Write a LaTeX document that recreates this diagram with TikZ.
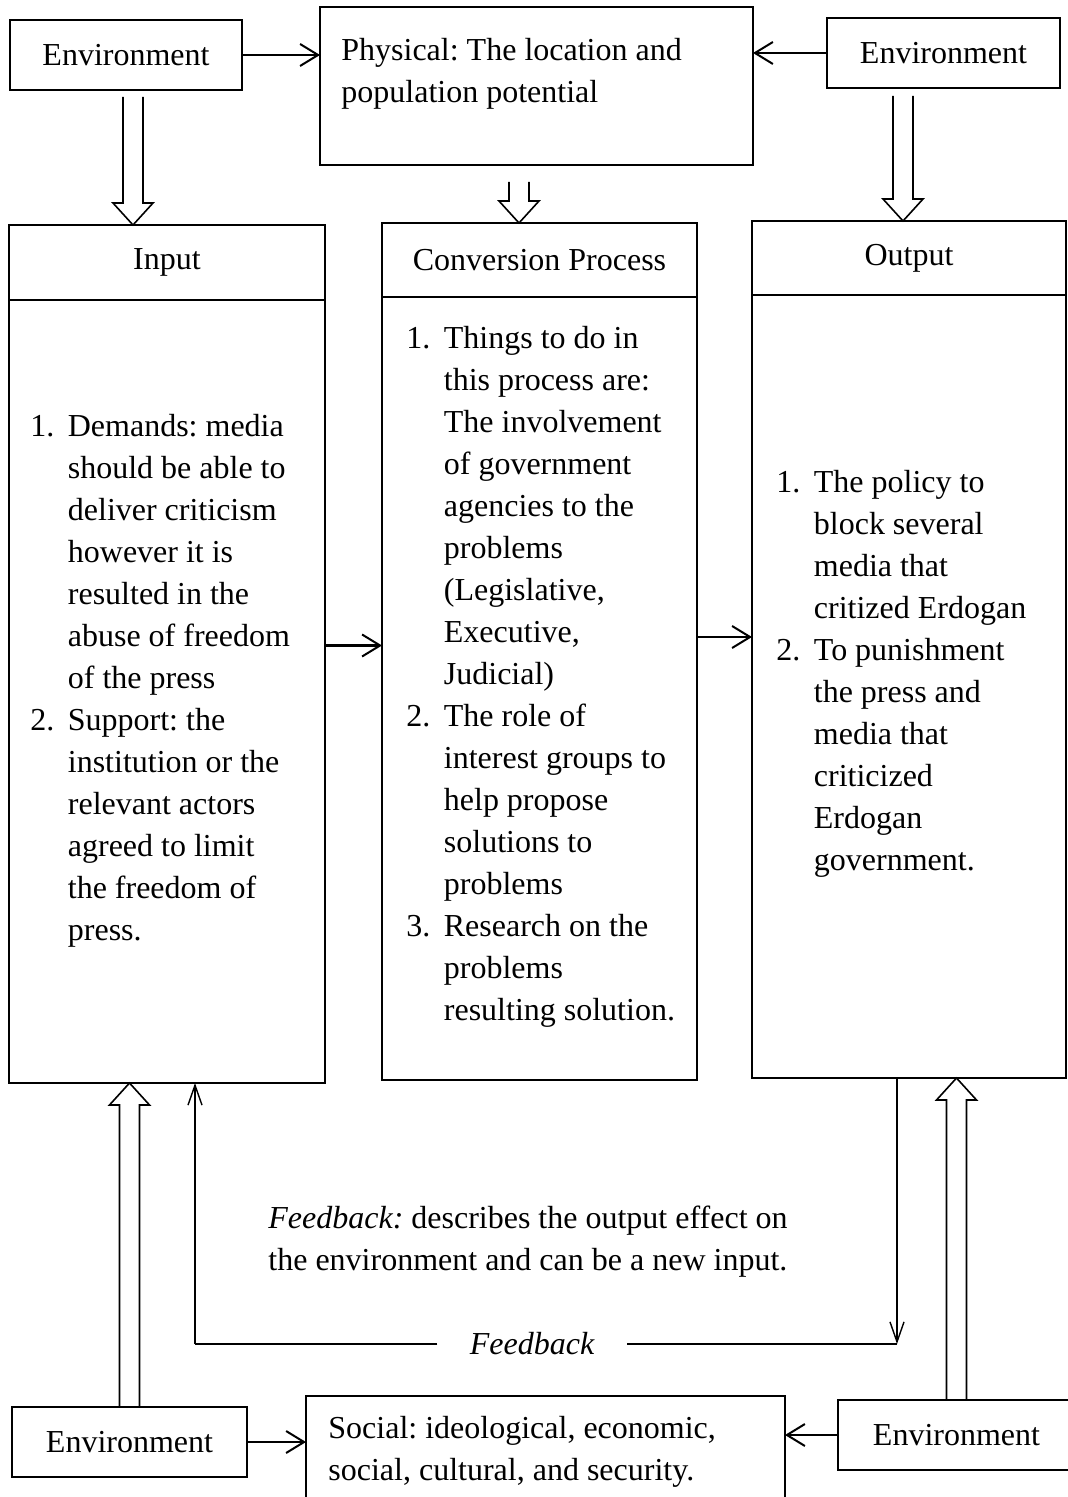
\documentclass[tikz,border=0pt]{standalone}
\usepackage{fontspec}
\setmainfont{Liberation Serif}
\usetikzlibrary{positioning,calc,arrows.meta}
\frenchspacing

\tikzset{
  box/.style={draw, line width=0.9pt, inner sep=0pt, outer sep=0pt, font=\fontsize{16}{21}\selectfont},
  listtext/.style={anchor=base west, align=left, inner sep=0pt, font=\fontsize{16}{21}\selectfont},
  arr/.style={line width=1.3pt, -{Straight Barb[length=9pt,width=11pt,line width=1pt]}},
  fb/.style={line width=0.7pt},
  fbarr/.style={fb, -{Straight Barb[length=10pt,width=7pt]}},
  hollow/.style={line width=0.8pt},
}
\newcommand{\itm}[1]{\makebox[18.75pt][l]{#1}}
\newcommand{\hollowarrow}[2]{%
  \draw[hollow] let \p1=#1, \p2=#2, \n1={ifthenelse(\y2>\y1,1,-1)} in
    (\x1-5pt,\y1) -- (\x1-5pt,{\y2-\n1*11pt}) -- (\x1-10pt,{\y2-\n1*11pt})
    -- (\x1,\y2) -- (\x1+10pt,{\y2-\n1*11pt}) -- (\x1+5pt,{\y2-\n1*11pt}) -- (\x1+5pt,\y1);}

\begin{document}
\begin{tikzpicture}[x=0.5pt, y=-0.5pt]
  \clip (0,0) rectangle (1068,1497);

  % environment boxes
  \node[box, minimum width=116pt, minimum height=35pt] (envtl) at (126,55) {Environment};
  \node[box, minimum width=116.5pt, minimum height=35pt] (envtr) at (943.5,53) {Environment};
  \node[box, minimum width=117.5pt, minimum height=35pt] (envbl) at (129.5,1442) {Environment};
  \node[box, minimum width=118.5pt, minimum height=35pt] (envbr) at (956.5,1435) {Environment};

  % physical and social (text placed by its last line)
  \node[box, minimum width=216.5pt, minimum height=79pt] (phys) at (536.5,86) {};
  \node[listtext] (phystext) at (341,103) {Physical: The location and\\population potential};
  \node[box, minimum width=239.5pt, minimum height=57pt] (social) at (545.5,1453) {};
  \node[listtext] (socialtext) at (328,1480) {Social: ideological, economic,\\social, cultural, and security.};

  % three columns
  \node[box, minimum width=158pt, minimum height=37.5pt] (inhead) at (167,262.5) {Input};
  \node[box, minimum width=158pt, minimum height=391.5pt, below=0pt of inhead] (inbody) {};
  \node[box, minimum width=157.5pt, minimum height=37pt] (convhead) at (539.5,260) {Conversion Process};
  \node[box, minimum width=157.5pt, minimum height=391.5pt, below=0pt of convhead] (convbody) {};
  \node[box, minimum width=157pt, minimum height=37pt] (outhead) at (909,258) {Output};
  \node[box, minimum width=157pt, minimum height=391.5pt, below=0pt of outhead] (outbody) {};

  \node[listtext] (intext) at (30,940) {%
    \itm{1.}Demands: media\\
    \itm{}should be able to\\
    \itm{}deliver criticism\\
    \itm{}however it is\\
    \itm{}resulted in the\\
    \itm{}abuse of freedom\\
    \itm{}of the press\\
    \itm{2.}Support: the\\
    \itm{}institution or the\\
    \itm{}relevant actors\\
    \itm{}agreed to limit\\
    \itm{}the freedom of\\
    \itm{}press.};
  \node[listtext] (convtext) at (406,1020) {%
    \itm{1.}Things to do in\\
    \itm{}this process are:\\
    \itm{}The involvement\\
    \itm{}of government\\
    \itm{}agencies to the\\
    \itm{}problems\\
    \itm{}(Legislative,\\
    \itm{}Executive,\\
    \itm{}Judicial)\\
    \itm{2.}The role of\\
    \itm{}interest groups to\\
    \itm{}help propose\\
    \itm{}solutions to\\
    \itm{}problems\\
    \itm{3.}Research on the\\
    \itm{}problems\\
    \itm{}resulting solution.};
  \node[listtext] (outtext) at (776,870) {%
    \itm{1.}The policy to\\
    \itm{}block several\\
    \itm{}media that\\
    \itm{}critized Erdogan\\
    \itm{2.}To punishment\\
    \itm{}the press and\\
    \itm{}media that\\
    \itm{}criticized\\
    \itm{}Erdogan\\
    \itm{}government.};

  % feedback
  \node[listtext] (fbtext) at (268,1270) {\textit{Feedback:} describes the output effect on\\the environment and can be a new input.};
  \node[font=\fontsize{16}{21}\selectfont\itshape, inner xsep=16pt] (fblabel) at (532,1344) {Feedback};
  \coordinate (fbr) at (897,1344);
  \coordinate (fbl) at (195,1344);

  % connectors
  \draw[arr] (envtl.east) -- (envtl.east -| phys.west);
  \draw[arr] (envtr.west) -- (envtr.west -| phys.east);
  \draw[arr] (envbl.east) -- (envbl.east -| social.west);
  \draw[arr] (envbr.west) -- (envbr.west -| social.east);
  \draw[arr] ([yshift=23pt]inbody.east) -- ([yshift=23pt]inbody.east -| convbody.west);
  \draw[arr] ([yshift=25.75pt]convbody.east) -- ([yshift=25.75pt]convbody.east -| outbody.west);

  \hollowarrow{([shift={(3.5pt,-3.5pt)}]envtl.south)}{(inhead.north)}
  \hollowarrow{([shift={(-8.75pt,-8.5pt)}]phys.south)}{(convhead.north)}
  \hollowarrow{([shift={(-20.25pt,-4pt)}]envtr.south)}{(outhead.north)}
  \hollowarrow{(envbl.north)}{(inbody.south)}
  \hollowarrow{(envbr.north)}{(outbody.south)}

  \draw[fbarr] (outbody.south -| fbr) -- (fbr);
  \draw[fb] (fbr) -- (fblabel);
  \draw[fb] (fblabel) -- (fbl);
  \draw[fbarr] (fbl) -- (fbl |- inbody.south);
\end{tikzpicture}
\end{document}
